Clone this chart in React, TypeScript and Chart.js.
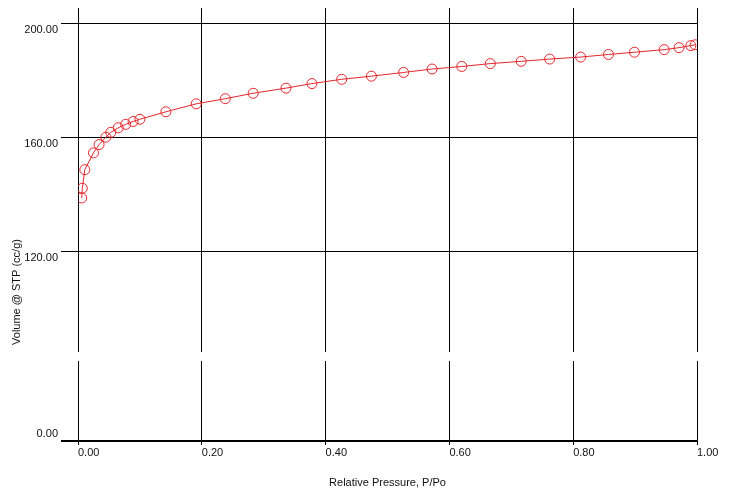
import React, { useRef, useEffect } from "react";
import { Chart, registerables } from "chart.js";

Chart.register(...registerables);

// isotherm points
const pressure = [
  0.006, 0.007, 0.011, 0.025, 0.034, 0.045, 0.053, 0.065, 0.077, 0.089, 0.1,
  0.142, 0.191, 0.238, 0.283, 0.336, 0.378, 0.426, 0.474, 0.526, 0.572, 0.62,
  0.666, 0.716, 0.762, 0.812, 0.857, 0.899, 0.947, 0.971, 0.99, 0.997,
];
const volume = [
  138.8, 142.2, 148.7, 154.6, 157.5, 160.1, 161.8, 163.4, 164.6, 165.6, 166.4,
  169.0, 171.8, 173.6, 175.5, 177.3, 178.9, 180.4, 181.5, 182.8, 184.0, 184.9,
  185.9, 186.7, 187.5, 188.2, 189.1, 189.9, 190.8, 191.5, 192.2, 192.5,
];
const upperTicks = [120, 160, 200];
const lowerTicks = [0];

const FONT = { family: "'Liberation Sans', Arial, sans-serif", size: 11 };
const TEXT = "#111";
const RED = "#e3262b";

// white band cutting the grid where the y axis is broken
const axisBreak = {
  id: "axisBreak",
  afterDraw(chart: Chart) {
    const { ctx, chartArea, scales } = chart;
    const yb = scales.y.bottom;
    ctx.save();
    ctx.fillStyle = "#fff";
    ctx.fillRect(chartArea.left - 2, yb - 4.5, chartArea.right - chartArea.left + 4, 9);
    ctx.restore();
  },
};

const yTitle = {
  id: "yTitle",
  afterDraw(chart: Chart) {
    const { ctx } = chart;
    ctx.save();
    ctx.translate(9, 290);
    ctx.rotate(-Math.PI / 2);
    ctx.font = `11px ${FONT.family}`;
    ctx.fillStyle = TEXT;
    ctx.textAlign = "center";
    ctx.textBaseline = "middle";
    ctx.fillText("Volume @ STP (cc/g)", 0, 0);
    ctx.restore();
  },
};

const App: React.FC = () => {
  const canvasRef = useRef<HTMLCanvasElement | null>(null);
  const chartRef = useRef<Chart | null>(null);

  useEffect(() => {
    if (!canvasRef.current) return;
    const ctx = canvasRef.current.getContext("2d");
    if (!ctx) return;

    const yFit = (scale: any) => {
      scale.width = 53;
      scale.paddingTop = 0;
      scale.paddingBottom = 0;
    };

    chartRef.current = new Chart(ctx, {
      type: "line",
      data: {
        datasets: [
          {
            data: pressure.map((p, i) => ({ x: p, y: volume[i] })),
            borderColor: RED,
            borderWidth: 1,
            backgroundColor: "transparent",
            pointStyle: "circle",
            pointRadius: 5,
            pointBorderWidth: 1,
            pointBorderColor: RED,
            pointBackgroundColor: "transparent",
            tension: 0,
            xAxisID: "x",
            yAxisID: "y",
          },
        ],
      },
      options: {
        animation: false,
        responsive: true,
        maintainAspectRatio: false,
        layout: { padding: { left: 17, right: 38, top: 0, bottom: 0 } },
        plugins: {
          legend: { display: false },
          tooltip: { enabled: false },
        },
        scales: {
          x: {
            type: "linear",
            position: "bottom",
            min: 0,
            max: 1,
            ticks: {
              stepSize: 0.2,
              align: "start",
              padding: 1,
              font: FONT,
              color: TEXT,
              callback: (v) => Number(v).toFixed(2),
            },
            grid: { color: "#000", lineWidth: 1, tickLength: 4 },
            border: { display: false },
            title: {
              display: true,
              text: "Relative Pressure, P/Po",
              font: FONT,
              color: TEXT,
              padding: { top: 17, bottom: 2 },
            },
            afterFit: (scale: any) => {
              scale.height = 51;
              scale.paddingLeft = 0;
              scale.paddingRight = 0;
            },
          },
          y2: {
            type: "linear",
            position: "left",
            stack: "volume",
            stackWeight: 84.5,
            min: 0,
            max: 29.6,
            afterBuildTicks: (scale: any) => {
              scale.ticks = lowerTicks.map((v) => ({ value: v }));
            },
            ticks: {
              padding: 3,
              font: FONT,
              color: TEXT,
              callback: (v) => [Number(v).toFixed(2), ""],
            },
            grid: { color: "#000", lineWidth: 2, tickLength: 17 },
            border: { display: true, color: "#000" },
            afterFit: yFit,
          },
          y: {
            type: "linear",
            position: "left",
            stack: "volume",
            stackWeight: 348.5,
            min: 83.2,
            max: 205.4,
            afterBuildTicks: (scale: any) => {
              scale.ticks = upperTicks.map((v) => ({ value: v }));
            },
            ticks: {
              padding: 3,
              font: FONT,
              color: TEXT,
              callback: (v) => ["", Number(v).toFixed(2)],
            },
            grid: { color: "#000", lineWidth: 1, tickLength: 17 },
            border: { display: true, color: "#000" },
            afterFit: yFit,
          },
        },
      },
      plugins: [axisBreak, yTitle],
    });

    return () => {
      chartRef.current?.destroy();
    };
  }, []);

  // the point overflow padding (6px) pushes the plot down; pull the canvas up to compensate
  return (
    <div style={{ position: "relative", width: 727, height: 490, marginTop: -6 }}>
      <canvas ref={canvasRef}></canvas>
    </div>
  );
};

export default App;
